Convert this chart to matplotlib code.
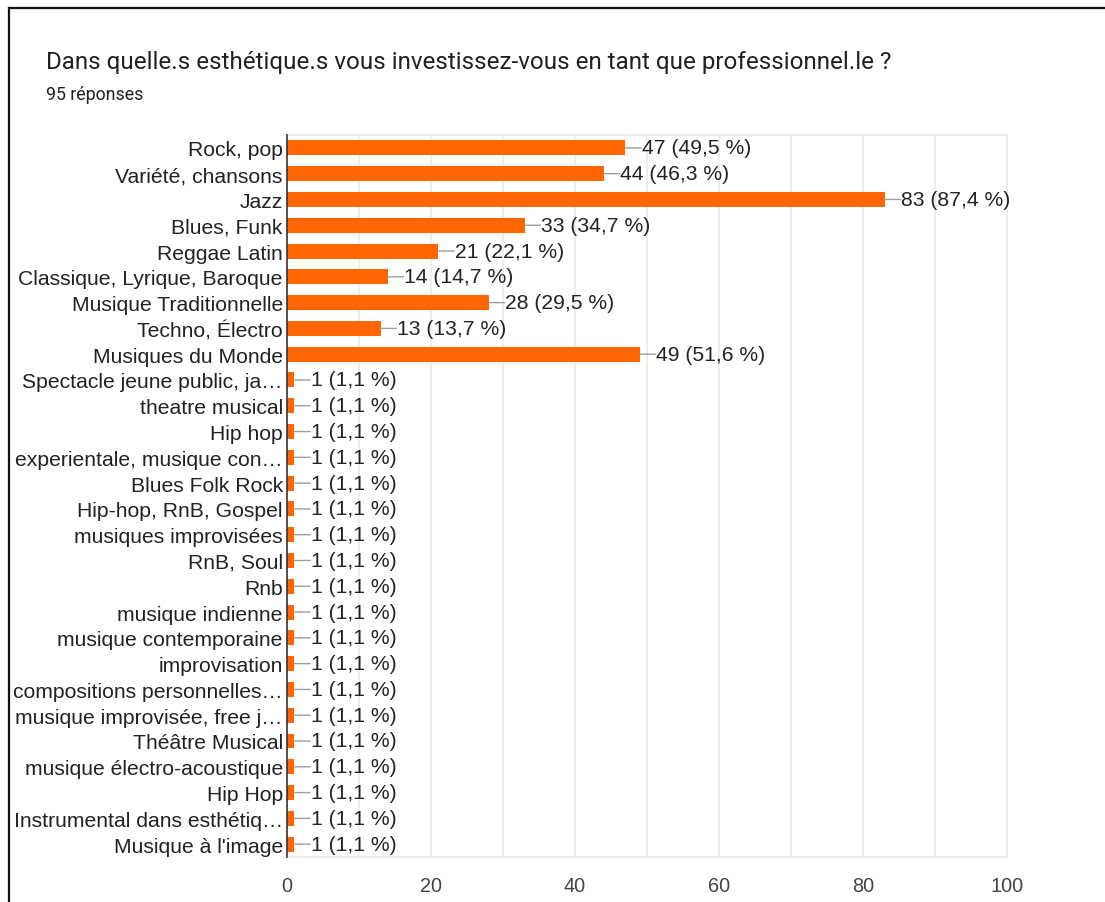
import matplotlib
matplotlib.use("Agg")
import matplotlib.pyplot as plt
from matplotlib.lines import Line2D

plt.rcParams['font.family'] = ['Liberation Sans', 'DejaVu Sans']

title = "Dans quelle.s esthétique.s vous investissez-vous en tant que professionnel.le ?"
n_responses = 95

categories = [
    "Rock, pop", "Variété, chansons", "Jazz", "Blues, Funk", "Reggae Latin",
    "Classique, Lyrique, Baroque", "Musique Traditionnelle", "Techno, Électro",
    "Musiques du Monde", "Spectacle jeune public, ja…", "theatre musical",
    "Hip hop", "experientale, musique con…", "Blues Folk Rock",
    "Hip-hop, RnB, Gospel", "musiques improvisées", "RnB, Soul", "Rnb",
    "musique indienne", "musique contemporaine", "improvisation",
    "compositions personnelles…", "musique improvisée, free j…",
    "Théâtre Musical", "musique électro-acoustique", "Hip Hop",
    "Instrumental dans esthétiq…", "Musique à l'image",
]
counts = [47, 44, 83, 33, 21, 14, 28, 13, 49] + [1] * 19
xticks = [0, 20, 40, 60, 80, 100]

fig = plt.figure(figsize=(11.05, 9.03), dpi=100)
ax = fig.add_axes([0.2597, 0.0498, 0.6516, 0.7996])

y = list(range(len(categories)))
ax.barh(y, counts, height=0.58, color="#ff6600", zorder=3)
ax.set_ylim(len(categories) - 0.5, -0.5)
ax.set_xlim(0, 100)

ax.set_xticks(range(0, 101, 10), minor=True)
ax.set_xticks(xticks)
ax.set_xticklabels([str(t) for t in xticks], fontsize=14.3, color="#444444")
ax.set_yticks(y)
ax.set_yticklabels(categories, fontsize=15.2, color="#222222")
ax.tick_params(axis="both", which="both", length=0, pad=3)
ax.tick_params(axis="x", pad=14)
ax.grid(axis="x", which="both", color="#ebebeb", linewidth=1.2, zorder=0)

for side in ["top", "right", "bottom"]:
    ax.spines[side].set_color("#ebebeb")
    ax.spines[side].set_linewidth(1.2)
ax.spines["left"].set_color("#333333")
ax.spines["left"].set_linewidth(1.2)
ax.spines["left"].set_zorder(4)

# value labels with a short grey leader line
for yi, c in zip(y, counts):
    pct = f"{c / n_responses * 100:.1f}".replace(".", ",")
    ax.annotate("", xy=(c, yi), xycoords="data",
                xytext=(11.5, 0), textcoords="offset points",
                arrowprops=dict(arrowstyle="-", color="#9e9e9e", lw=1.0,
                                shrinkA=0, shrinkB=0))
    ax.annotate(f"{c} ({pct} %)", xy=(c, yi), xytext=(12, 0),
                textcoords="offset points", va="center", ha="left",
                fontsize=15.2, color="#222222", annotation_clip=False)

fig.text(46 / 1105, 1 - 62 / 903, title, fontsize=17.4, color="#202124",
         va="center", ha="left", family="Roboto")
fig.text(46 / 1105, 1 - 95 / 903, f"{n_responses} réponses", fontsize=12.8,
         color="#202124", va="center", ha="left", family="Roboto")

# outer frame (top and left edges)
fig.add_artist(Line2D([8.5 / 1105, 1], [1 - 8.5 / 903, 1 - 8.5 / 903],
                      color="#111111", linewidth=1.6, transform=fig.transFigure))
fig.add_artist(Line2D([8.5 / 1105, 8.5 / 1105], [0, 1 - 8.5 / 903],
                      color="#111111", linewidth=1.6, transform=fig.transFigure))

fig.savefig("out.png", dpi=100, facecolor="white")
